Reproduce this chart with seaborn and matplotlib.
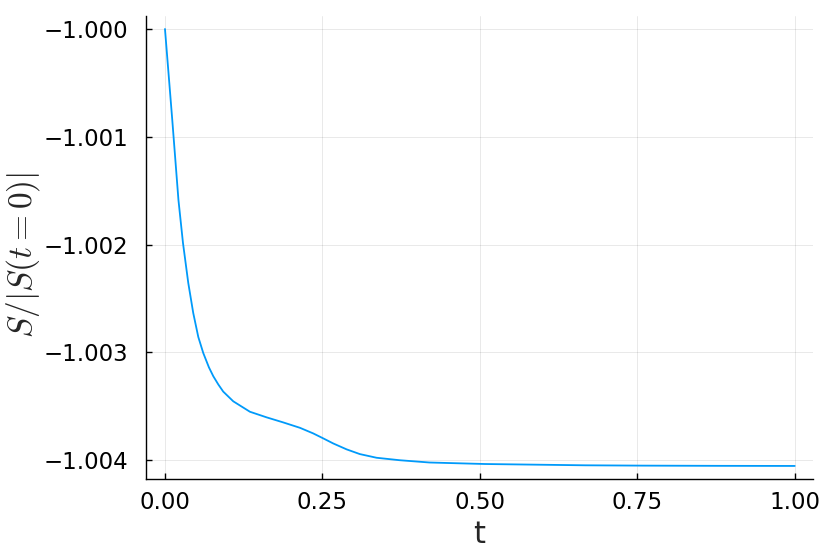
import numpy as np
import pandas as pd
import matplotlib
matplotlib.use("Agg")
import matplotlib.pyplot as plt
import seaborn as sns

# values
t = [0.0, 0.0116, 0.0214, 0.0286, 0.0370, 0.0449, 0.0529, 0.0608, 0.0698,
     0.0767, 0.0846, 0.0925, 0.1084, 0.1349, 0.1614, 0.1878, 0.2143, 0.2354,
     0.2513, 0.2671, 0.2884, 0.3095, 0.3360, 0.3730, 0.42, 0.508, 0.667,
     0.759, 0.88, 1.0]
S = [-1.0, -1.000845, -1.001587, -1.001986, -1.002357, -1.002636, -1.002858,
     -1.003007, -1.003140, -1.003222, -1.003298, -1.003365, -1.003455,
     -1.003552, -1.003604, -1.003651, -1.003701, -1.003753, -1.003799,
     -1.003846, -1.003901, -1.003945, -1.003979, -1.004002, -1.004023,
     -1.004037, -1.004049, -1.004052, -1.004054, -1.004055]

df = pd.DataFrame({"t": t, "S": S})

sns.set_theme(style="white")
plt.rcParams["mathtext.fontset"] = "cm"
plt.rcParams["font.family"] = ["DejaVu Sans"]

fig = plt.figure(figsize=(8.3, 5.54), dpi=100)
ax = fig.add_axes([0.176, 0.1354, 0.8035, 0.8356])

sns.lineplot(data=df, x="t", y="S", ax=ax, color="#009AFA", linewidth=1.3)

ax.set_xlim(-0.03, 1.029)
ax.set_ylim(-1.004176, -0.99988)
ax.set_xticks([0.0, 0.25, 0.5, 0.75, 1.0])
ax.set_xticklabels(["0.00", "0.25", "0.50", "0.75", "1.00"])
ax.set_yticks([-1.004, -1.003, -1.002, -1.001, -1.000])
ax.set_yticklabels(["\u22121.004", "\u22121.003", "\u22121.002", "\u22121.001", "\u22121.000"])

ax.grid(True, color="black", alpha=0.1, linewidth=0.6)
for side in ["top", "right"]:
    ax.spines[side].set_visible(False)
for side in ["left", "bottom"]:
    ax.spines[side].set_color("black")
    ax.spines[side].set_linewidth(1.0)
ax.tick_params(axis="both", direction="in", length=4, width=1, colors="black",
               labelsize=16.5, left=True, bottom=True)
ax.tick_params(axis="y", pad=13)
ax.tick_params(axis="x", pad=9)

ax.set_xlabel("t", fontsize=22, labelpad=4)
ax.set_ylabel(r"$S/|S(t=0)|$", fontsize=24, va="center")
ax.yaxis.set_label_coords(-0.184, 0.484)

fig.savefig("out.png", dpi=100)
